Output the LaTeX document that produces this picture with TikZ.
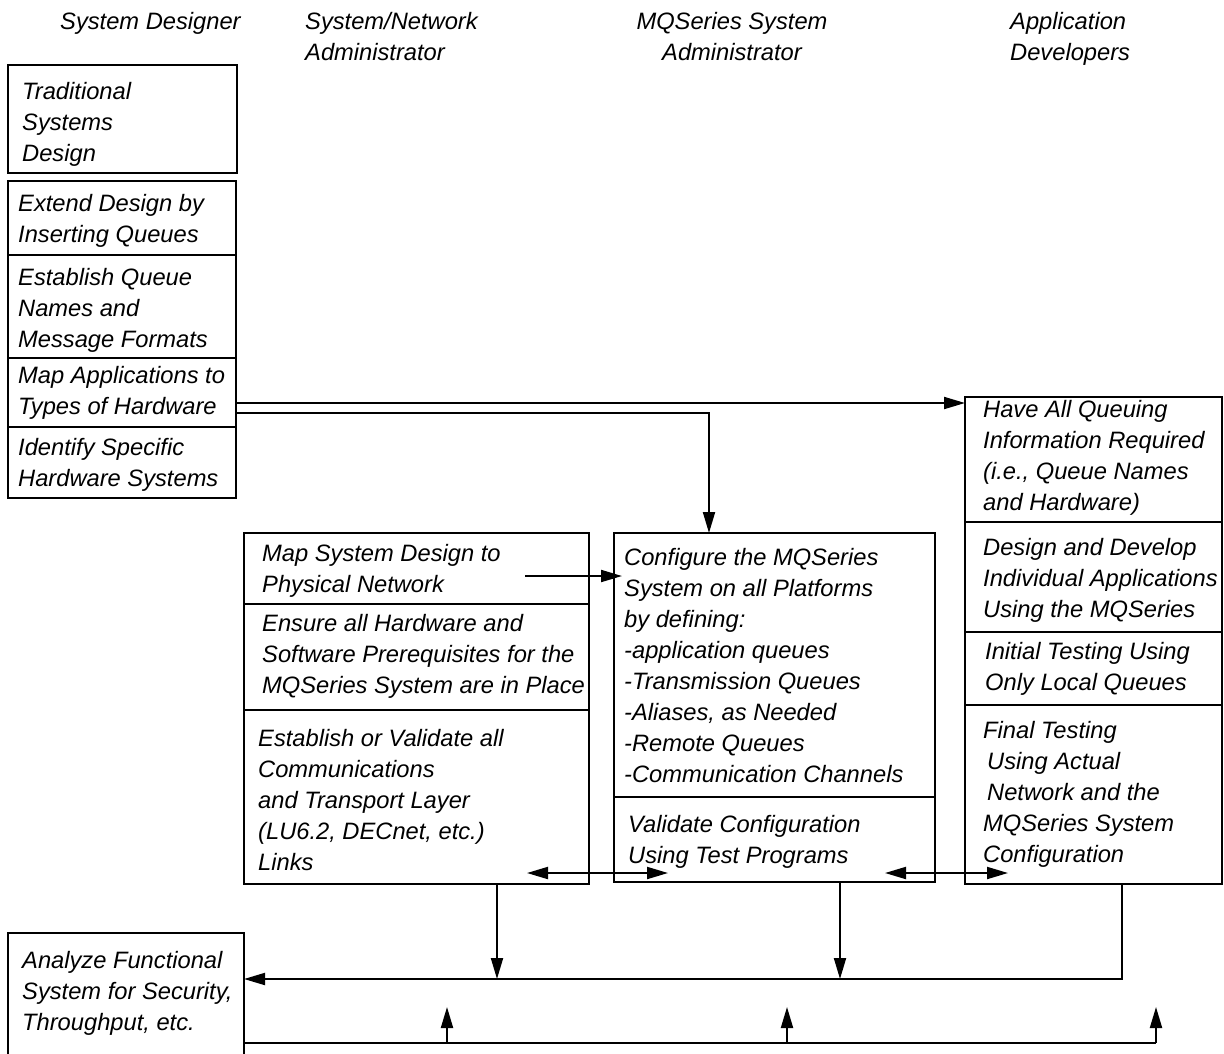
\documentclass[tikz,border=0pt]{standalone}
\usepackage{fontspec}
\setmainfont{Liberation Sans}
\usetikzlibrary{fit,arrows.meta}
\begin{document}
\begin{tikzpicture}[x=1pt,y=-1pt,
  box/.style={draw, line width=2pt, inner sep=0pt},
  txt/.style={anchor=north west, inner sep=0pt, align=left, font=\fontsize{23.7}{31}\selectfont\itshape},
  conn/.style={line width=2pt},
  arr/.style={conn, -{Triangle[length=21pt,width=12pt]}},
  darr/.style={conn, {Triangle[length=21pt,width=12pt]}-{Triangle[length=21pt,width=12pt]}}]
\useasboundingbox (0,0) rectangle (1224,1053);
% headers
\node[txt] (h1) at (60,8) {\strut System Designer};
\node[txt] (h2) at (305,8) {\strut System/Network\\Administrator};
\node[txt, anchor=north, align=center] (h3) at (732,8) {\strut MQSeries System\\Administrator};
\node[txt] (h4) at (1010,8) {\strut Application\\Developers};
% system designer boxes
\node[box, fit={(8,65) (237,173)}] (tsd) {};
\node[box, fit={(8,181) (236,255)}] (ext) {};
\node[box, fit={(8,255) (236,358)}] (est) {};
\node[box, fit={(8,358) (236,427)}] (map) {};
\node[box, fit={(8,427) (236,498)}] (ident) {};
\node[txt] (tsdT) at (22,78) {\strut Traditional\\Systems\\Design};
\node[txt] (extT) at (18,190) {\strut Extend Design by\\Inserting Queues};
\node[txt] (estT) at (18,264) {\strut Establish Queue\\Names and\\Message Formats};
\node[txt] (mapT) at (18,362) {\strut Map Applications to\\Types of Hardware};
\node[txt] (identT) at (18,434) {\strut Identify Specific\\Hardware Systems};
% system/network admin
\node[box, fit={(244,533) (589,604)}] (msd) {};
\node[box, fit={(244,604) (589,710)}] (ens) {};
\node[box, fit={(244,710) (589,884)}] (estv) {};
\node[txt] (msdT) at (262,540) {\strut Map System Design to\\Physical Network};
\node[txt] (ensT) at (262,610) {\strut Ensure all Hardware and\\Software Prerequisites for the\\MQSeries System are in Place};
\node[txt] (estvT) at (258,725) {\strut Establish or Validate all\\Communications\\and Transport Layer\\(LU6.2, DECnet, etc.)\\Links};
% MQSeries admin
\node[box, fit={(614,533) (935,797)}] (conf) {};
\node[box, fit={(614,797) (935,882)}] (valid) {};
\node[txt] (confT) at (624,544) {\strut Configure the MQSeries\\System on all Platforms\\by defining:\\-application queues\\-Transmission Queues\\-Aliases, as Needed\\-Remote Queues\\-Communication Channels};
\node[txt] (validT) at (628,811) {\strut Validate Configuration\\Using Test Programs};
% application developers
\node[box, fit={(965,397) (1222,522)}] (have) {};
\node[box, fit={(965,522) (1222,632)}] (design) {};
\node[box, fit={(965,632) (1222,705)}] (init) {};
\node[box, fit={(965,705) (1222,884)}] (final) {};
\node[txt] (haveT) at (983,396) {\strut Have All Queuing\\Information Required\\(i.e., Queue Names\\and Hardware)};
\node[txt] (designT) at (983,534) {\strut Design and Develop\\Individual Applications\\Using the MQSeries};
\node[txt] (initT) at (985,638) {\strut Initial Testing Using\\Only Local Queues};
\node[txt] (finalT) at (983,717) {\strut Final Testing\\\hspace*{4pt}Using Actual\\\hspace*{4pt}Network and the\\MQSeries System\\Configuration};
% analyze
\node[box, fit={(8,933) (244,1060)}] (ana) {};
\node[txt] (anaT) at (22,947) {\strut Analyze Functional\\System for Security,\\Throughput, etc.};
% connector coordinates
\coordinate (a1s) at (236,403);
\coordinate (a1e) at (965,403);
\coordinate (a2s) at (236,413);
\coordinate (a2c) at (709,413);
\coordinate (a2e) at (709,533);
\coordinate (a3s) at (525,576);
\coordinate (a3e) at (622,576);
\coordinate (d1a) at (527,873);
\coordinate (d1b) at (668,873);
\coordinate (d2a) at (885,873);
\coordinate (d2b) at (1008,873);
\coordinate (v1s) at (497,884);
\coordinate (v1e) at (497,979);
\coordinate (v2s) at (840,882);
\coordinate (v2e) at (840,979);
\coordinate (v3s) at (1122,884);
\coordinate (v3c) at (1122,979);
\coordinate (v3e) at (244,979);
\coordinate (bs) at (244,1043);
\coordinate (b1) at (447,1043);
\coordinate (b2) at (787,1043);
\coordinate (b3) at (1156,1043);
\coordinate (u1) at (447,1007);
\coordinate (u2) at (787,1007);
\coordinate (u3) at (1156,1007);
% connectors
\draw[arr] (a1s) -- (a1e);
\draw[arr] (a2s) -- (a2c) -- (a2e);
\draw[arr] (a3s) -- (a3e);
\draw[darr] (d1a) -- (d1b);
\draw[darr] (d2a) -- (d2b);
\draw[arr] (v1s) -- (v1e);
\draw[arr] (v2s) -- (v2e);
\draw[arr] (v3s) -- (v3c) -- (v3e);
\draw[conn] (bs) -- (b3);
\draw[arr] (b1) -- (u1);
\draw[arr] (b2) -- (u2);
\draw[arr] (b3) -- (u3);
\end{tikzpicture}
\end{document}
